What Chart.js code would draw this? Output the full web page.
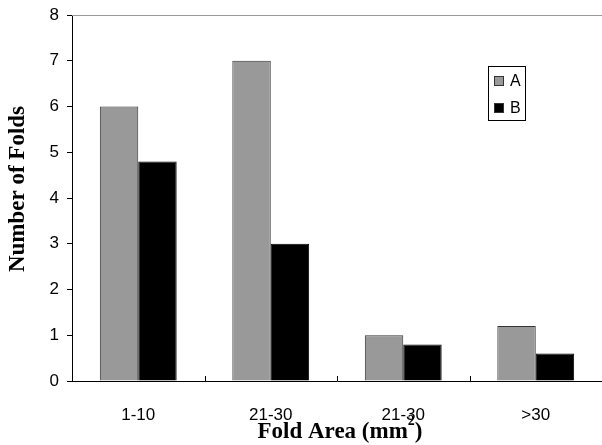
<!DOCTYPE html>
<html>
<head>
<meta charset="utf-8">
<script src="https://cdn.jsdelivr.net/npm/chart.js@4"></script>
<style>
  html, body { margin: 0; padding: 0; background: #fff; }
  #wrap { width: 602px; height: 445px; position: relative; }
</style>
</head>
<body>
<div id="wrap"><canvas id="c" width="602" height="445"></canvas></div>
<script>
const categories = ['1-10', '21-30', '21-30', '>30'];
const seriesNames = ['A', 'B'];
const seriesA = [6, 7, 1, 1.2];
const seriesB = [4.8, 3, 0.8, 0.6];
const yMin = 0, yMax = 8, yStep = 1;
const xTitleMain = 'Fold Area (mm';
const xTitleSup = '2';
const xTitleEnd = ')';
const yTitle = 'Number of Folds';

const fillA = '#999999', fillB = '#000000';
const serif = '"Liberation Serif", "Times New Roman", serif';
const sans = '"Liberation Sans", Arial, sans-serif';

const decorPlugin = {
  id: 'decor',
  afterDraw(chart) {
    const ctx = chart.ctx;
    const ca = chart.chartArea;
    const xs = chart.scales.x;
    ctx.save();
    // top gray frame line
    ctx.strokeStyle = '#999999';
    ctx.lineWidth = 1;
    ctx.beginPath();
    ctx.moveTo(ca.left, ca.top + 0.5);
    ctx.lineTo(ca.right, ca.top + 0.5);
    ctx.stroke();
    // inward category-boundary ticks
    ctx.strokeStyle = '#000';
    for (let i = 1; i < categories.length; i++) {
      const x = Math.round((xs.getPixelForValue(i - 1) + xs.getPixelForValue(i)) / 2) + 0.5;
      ctx.beginPath();
      ctx.moveTo(x, ca.bottom);
      ctx.lineTo(x, ca.bottom - 5);
      ctx.stroke();
    }
    // y title
    ctx.fillStyle = '#000';
    ctx.font = 'bold 23px ' + serif;
    ctx.textAlign = 'center';
    ctx.textBaseline = 'middle';
    ctx.translate(18, 189);
    ctx.rotate(-Math.PI / 2);
    ctx.fillText(yTitle, 0, 0);
    ctx.restore();

    // x title with superscript
    ctx.save();
    ctx.fillStyle = '#000';
    ctx.textBaseline = 'alphabetic';
    ctx.textAlign = 'left';
    const mainFont = 'bold 23px ' + serif;
    const supFont = 'bold 14px ' + serif;
    ctx.font = mainFont;
    const w1 = ctx.measureText(xTitleMain).width;
    const w3 = ctx.measureText(xTitleEnd).width;
    ctx.font = supFont;
    const w2 = ctx.measureText(xTitleSup).width;
    const total = w1 + w2 + w3;
    let x0 = (ca.left + ca.right) / 2 - total / 2 + 3;
    const base = 438;
    ctx.font = mainFont;
    ctx.fillText(xTitleMain, x0, base);
    ctx.font = supFont;
    ctx.fillText(xTitleSup, x0 + w1, base - 13);
    ctx.font = mainFont;
    ctx.fillText(xTitleEnd, x0 + w1 + w2, base);
    ctx.restore();

    // legend
    ctx.save();
    const lx = 488, ly = 66, lw = 37, lh = 54;
    ctx.strokeStyle = '#000';
    ctx.lineWidth = 1;
    ctx.strokeRect(lx + 0.5, ly + 0.5, lw, lh);
    const fills = [fillA, fillB];
    const rowsY = [81, 108];
    ctx.font = '16px ' + sans;
    ctx.textBaseline = 'middle';
    ctx.textAlign = 'left';
    chart.data.datasets.forEach((ds, i) => {
      const cy = rowsY[i];
      ctx.fillStyle = fills[i];
      ctx.fillRect(lx + 6, cy - 5, 10, 10);
      ctx.strokeStyle = '#333';
      ctx.strokeRect(lx + 6.5, cy - 4.5, 9, 9);
      ctx.fillStyle = '#000';
      ctx.fillText(ds.label, lx + 22, cy + 1);
    });
    ctx.restore();
  }
};

new Chart(document.getElementById('c'), {
  type: 'bar',
  data: {
    labels: categories,
    datasets: [
      { label: seriesNames[0], data: seriesA, backgroundColor: fillA, borderColor: '#333333', borderWidth: 1 },
      { label: seriesNames[1], data: seriesB, backgroundColor: fillB, borderColor: '#000000', borderWidth: 1 }
    ]
  },
  options: {
    responsive: false,
    animation: false,
    devicePixelRatio: 1,
    layout: { padding: { top: 15, right: 0, left: 0, bottom: 0 } },
    datasets: { bar: { categoryPercentage: 0.58, barPercentage: 1.0 } },
    plugins: { legend: { display: false }, tooltip: { enabled: false }, title: { display: false } },
    scales: {
      x: {
        grid: { display: false },
        border: { display: true, color: '#000', width: 1 },
        ticks: { color: '#000', font: { family: sans, size: 17 }, padding: 16, maxRotation: 0 },
        afterFit(s) { s.height = 64; s.paddingLeft = 0; s.paddingRight = 0; }
      },
      y: {
        min: yMin, max: yMax,
        grid: { display: true, drawOnChartArea: false, drawTicks: true, tickLength: 5, color: '#000' },
        border: { display: true, color: '#000', width: 1 },
        ticks: { stepSize: yStep, color: '#000', font: { family: sans, size: 17 }, padding: 8 },
        afterFit(s) { s.width = 72; s.paddingTop = 0; s.paddingBottom = 0; }
      }
    }
  },
  plugins: [decorPlugin]
});
</script>
</body>
</html>
